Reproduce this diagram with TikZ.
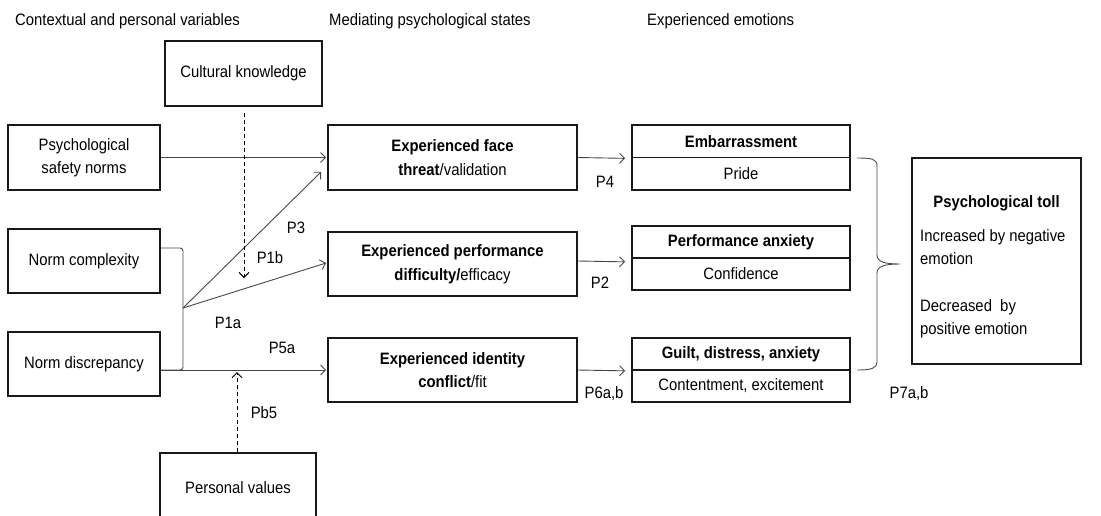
\documentclass[tikz,border=0pt]{standalone}
\usepackage{fontspec}
\setmainfont[FakeStretch=0.9]{Liberation Sans}
\usetikzlibrary{arrows.meta,calc}
\begin{document}
\begin{tikzpicture}[x=1pt,y=-1pt,
  every node/.style={font=\fontsize{16.5}{23.5}\selectfont, inner sep=0pt},
  box/.style={draw=black!90, line width=1.7pt, align=center},
  half/.style={box, minimum width=218, minimum height=32},
  emph/.style={font=\fontsize{16.5}{18}\selectfont\bfseries},
  link/.style={draw=black!72, line width=0.9pt, -{Straight Barb[length=5pt,width=10pt]}},
  cue/.style={draw=black, line width=0.9pt, dash pattern=on 4pt off 3pt, -{Straight Barb[length=5pt,width=10pt]}},
  joint/.style={draw=black!70, line width=0.9pt},
  header/.style={anchor=west}]
\useasboundingbox (0,0) rectangle (1101,515);
\clip (0,0) rectangle (1101,515);

% column headings
\node[header] (h1) at (15,21) {Contextual and personal variables};
\node[header] (h2) at (329,21) {Mediating psychological states};
\node[header] (h3) at (647,21) {Experienced emotions};

% contextual and personal variables
\node[box, minimum width=157, minimum height=65] (cult) at (243.5,73.5) {Cultural knowledge};
\node[box, minimum width=152, minimum height=65] (safety) at (84,157.5) {Psychological\\safety norms};
\node[box, minimum width=152, minimum height=64] (cmplx) at (84,261) {Norm complexity};
\node[box, minimum width=152, minimum height=64] (disc) at (84,364) {Norm discrepancy};
\node[box, minimum width=156, minimum height=70] (values) at (238,488) {Personal values};

% mediating psychological states
\node[box, minimum width=249, minimum height=65] (face) at (452.5,157.5)
  {\textbf{Experienced face}\\\textbf{threat}/validation};
\node[box, minimum width=249, minimum height=64] (perf) at (452.5,264)
  {\textbf{Experienced performance}\\\textbf{difficulty/}efficacy};
\node[box, minimum width=249, minimum height=64] (ident) at (452.5,370)
  {\textbf{Experienced identity}\\\textbf{conflict}/fit};

% experienced emotions
\node[half, minimum height=32.5, emph] (embT) at (741,141.25) {Embarrassment};
\node[half, minimum height=32.5] (embB) at (741,173.75) {Pride};
\node[half, emph] (anxT) at (741,242) {Performance anxiety};
\node[half] (anxB) at (741,274) {Confidence};
\node[half, emph] (guiltT) at (741,354) {Guilt, distress, anxiety};
\node[half] (guiltB) at (741,386) {Contentment, excitement};

% outcome
\node[box, minimum width=169, minimum height=206] (toll) at (996.5,261) {};
\node[emph] (tollT) at (996.5,203) {Psychological toll};
\node[anchor=north west, align=left] (tollA) at (920,229) {Increased by negative\\emotion};
\node[anchor=north west, align=left] (tollB) at (920,299) {Decreased\ \ by\\positive emotion};

% junction of the two norm variables
\coordinate (J) at (183,308);
\draw[joint, rounded corners=3pt] ($(cmplx.east)+(0,-13)$) -- (183,248) -- (183,370) -- ($(disc.east)+(0,6)$);

% paths into the mediating states
\draw[link] (safety.east |- face.west) -- ($(face.west)+(-1,0)$);
\coordinate (faceIn) at ($(face.south west)+(-6,-19)$);
\draw[link] (J) -- (faceIn);
\draw[link] (J) -- ($(perf.west)+(-1,-1)$);
\draw[link] ($(disc.east)+(0,6)$) -- ($(ident.west)+(-1,0)$);

% moderators
\coordinate (cultEnd) at (244,278);
\draw[cue] (cult.south -| cultEnd) ++(0,6) -- (cultEnd);
\coordinate (valEnd) at (237,372);
\draw[cue] (values.north -| valEnd) -- (valEnd);

% paths into the emotions
\draw[link] (face.east) -- ($(embT.south west)+(-6,0)$);
\draw[link] ($(perf.east)+(0,-3)$) -- ($(anxT.south west)+(-6,3)$);
\draw[link] (ident.east) -- ($(guiltT.south west)+(-6,0)$);

% brace gathering the emotions
\draw[joint] (857,158) .. controls (872,158) and (877,159) .. (877,166) -- (877,255)
  .. controls (877,262) and (885,264) .. (900,264)
  .. controls (885,264) and (877,266) .. (877,273) -- (877,362)
  .. controls (877,368) and (872,370) .. (857,370);

% proposition labels
\node (P3) at (296,228) {P3};
\node (P1b) at (270,258) {P1b};
\node (P1a) at (228,323) {P1a};
\node (P5a) at (282,348) {P5a};
\node (Pb5) at (264,413) {Pb5};
\node (P4) at (605,182) {P4};
\node (P2) at (600,283) {P2};
\node (P6) at (604,394) {P6a,b};
\node (P7) at (909,394) {P7a,b};
\end{tikzpicture}
\end{document}
